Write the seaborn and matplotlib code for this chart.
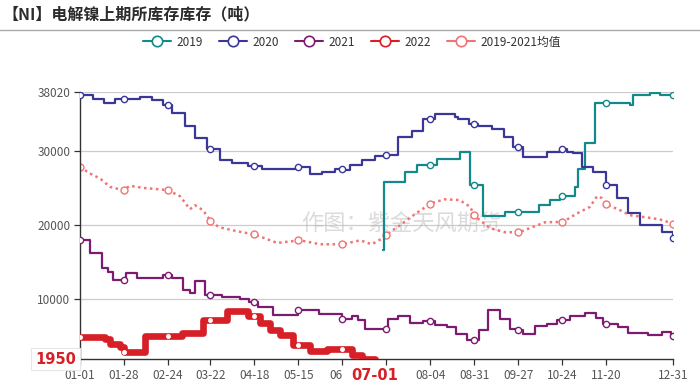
import numpy as np
import pandas as pd
import matplotlib
matplotlib.use("Agg")
import matplotlib.pyplot as plt
from matplotlib.lines import Line2D
import seaborn as sns

sns.set_theme(style="white")
plt.rcParams['font.family'] = ['Noto Sans CJK SC', 'DejaVu Sans']

# ---------------- data (x = day of year, y = tonnes) ----------------
tick_days = [0, 27, 54, 80, 107, 134, 161, 188, 215, 242, 269, 296, 323, 364]
tick_labels = ['01-01', '01-28', '02-24', '03-22', '04-18', '05-15', '06',
               '', '08-04', '08-31', '09-27', '10-24', '11-20', '12-31']
y_ticks = [1950, 10000, 20000, 30000, 38020]
y_tick_labels = ['', '10000', '20000', '30000', '38020']
min_label = '1950'
date_label = '07-01'
date_day = 181

d2019 = [186, 186.3, 199.5, 207, 219, 233, 239.4, 247.4, 261, 282, 288.5, 294.7,
         304, 305.7, 310, 316, 337.6, 339.5, 350, 356, 364]
v2019 = [16600, 25900, 27200, 28100, 28900, 29900, 25400, 21300, 21800, 22700, 23400, 24000,
         25100, 27600, 31100, 36500, 36200, 37600, 37800, 37570, 37570]

d2020 = [0, 8, 15, 21.5, 37, 44, 51, 56.5, 64.5, 70.6, 78, 86, 93, 103, 112, 133, 141,
         148.6, 156.5, 161.5, 166, 173, 181, 187, 195, 204, 210.5, 218, 230, 232, 239,
         244, 253, 260, 266, 272, 286.7, 294.7, 299, 302.6, 308, 315, 323, 329.7, 336.4,
         343.7, 357, 364]
v2020 = [37570, 37100, 36500, 37100, 37300, 36900, 36200, 35100, 33400, 31750, 30270,
         28800, 28400, 28000, 27600, 27800, 26900, 27200, 27600, 27400, 28100, 28800,
         29300, 29500, 31900, 32700, 34300, 35000, 34600, 34300, 33600, 33400, 33000,
         31900, 30600, 29200, 29900, 30270, 29900, 29700, 27800, 27200, 25400, 23650,
         21600, 20000, 19050, 18250]

d2021 = [0, 6, 13.5, 17, 20, 28, 35, 51, 56.5, 63, 67.5, 70.6, 76.7, 87, 98, 104, 109,
         118.5, 134, 147, 161, 167, 170.7, 175, 189, 195, 202.6, 210.6, 218, 225, 231,
         237.6, 245, 250.5, 258, 264, 268, 272, 279, 286.7, 292.8, 301, 310, 317, 321,
         330, 336.4, 348.7, 357, 362.8, 364]
v2021 = [18070, 16260, 14200, 13700, 12570, 13550, 12880, 13340, 12880, 11200, 10850,
         12460, 10540, 10300, 10000, 9640, 8920, 7840, 8510, 8060, 7390, 7700, 7250, 6040,
         7390, 7700, 6800, 7070, 6580, 6260, 5360, 4460, 5810, 8510, 7300, 6000, 5810,
         5270, 6350, 6710, 7160, 7700, 8100, 7500, 6710, 6250, 5450, 5140, 5580, 5040, 5040]

d2022 = [0, 15.3, 18.4, 24.6, 27, 40, 62.6, 75.5, 90, 103, 110.5, 116.6, 122.8, 130.8,
         141, 151.6, 167, 173, 181]
v2022 = [4900, 4680, 4000, 3550, 2870, 5000, 5500, 7250, 8420, 7700, 6800, 5810, 5140,
         3780, 3020, 3340, 2430, 1980, 1950]

d_avg = [0, 6, 12.3, 18.4, 26.4, 30.7, 38.7, 46, 54, 61.4, 67.5, 70.6, 75.5, 81, 86,
         96.4, 107.4, 121, 135, 147.3, 161.4, 172, 179, 185.4, 188.5, 196.4, 205.6, 215.5,
         224, 233, 239.4, 242.5, 251.7, 261, 269.5, 276, 285.5, 296.5, 305, 313, 317.4,
         320.4, 323, 331.5, 337.6, 350, 356, 364]
v_avg = [27870, 26990, 26310, 25180, 24730, 25320, 25040, 24900, 24730, 23920, 22160,
         22700, 22030, 20310, 19700, 19190, 18740, 17610, 17970, 17430, 17430, 17970,
         17430, 18200, 18780, 20000, 21500, 22970, 23500, 23400, 22500, 21200, 19600,
         19050, 19050, 19600, 20400, 20450, 21580, 22480, 23920, 23650, 22840, 22030,
         21350, 20990, 20770, 20230]

series_names = ['2019', '2020', '2021', '2022', '2019-2021均值']
colors = ['#13898b', '#3b3799', '#7d1b70', '#d61f26', '#f07474']

# ---------------- figure ----------------
fig = plt.figure(figsize=(7.0, 3.86), dpi=100)
ax = fig.add_axes([80 / 700, 1 - 359 / 386, 593 / 700, (359 - 91.7) / 386])

def step_val(days, vals, d):
    idx = np.searchsorted(np.asarray(days), d, side='right') - 1
    return vals[idx]

def draw_step(days, vals, color, lw, z, msize):
    sns.lineplot(x=days, y=vals, ax=ax, color=color, lw=lw, drawstyle='steps-post',
                 sort=False, estimator=None, zorder=z)
    md = [t for t in tick_days if days[0] + 3 <= t <= days[-1]]
    if days[0] == 0:
        md = [0] + md
    mv = [step_val(days, vals, t) for t in md]
    ax.plot(md, mv, 'o', ms=msize, mfc='white', mec=color, mew=1.0, zorder=z + 0.5, ls='none')

draw_step(d2019, v2019, colors[0], 1.6, 3, 4.5)
draw_step(d2020, v2020, colors[1], 1.6, 3, 4.5)
draw_step(d2021, v2021, colors[2], 1.6, 3, 4.5)

# average (dotted)
sns.lineplot(x=d_avg, y=v_avg, ax=ax, color=colors[4], lw=1.8, sort=False, estimator=None,
             zorder=2)
ax.lines[-1].set_linestyle((0, (1, 1.4)))
md = list(tick_days)
mv = list(np.interp(md, d_avg, v_avg))
ax.plot(md, mv, 'o', ms=5, mfc='white', mec=colors[4], mew=1.0, zorder=2.5, ls='none')

# 2022 thick
sns.lineplot(x=d2022, y=v2022, ax=ax, color=colors[3], lw=4.8, drawstyle='steps-post',
             sort=False, estimator=None, zorder=5)
md = [t for t in tick_days if t <= d2022[-1] - 5]
mv = [step_val(d2022, v2022, t) for t in md]
ax.plot(md, mv, 'o', ms=3, mfc='white', mec='white', mew=0.5, zorder=6, ls='none')

# axes styling
ax.set_xlim(0, 364)
ax.set_ylim(1950, 38020)
ax.set_xticks(tick_days)
ax.set_xticklabels(tick_labels)
ax.set_yticks(y_ticks)
ax.set_yticklabels(y_tick_labels)
for yv in y_ticks[1:]:
    ax.axhline(yv, color='#cccccc', lw=0.9, zorder=0)
for s in ['top', 'right']:
    ax.spines[s].set_visible(False)
for s in ['left', 'bottom']:
    ax.spines[s].set_color('#333333')
    ax.spines[s].set_linewidth(1.0)
ax.tick_params(axis='both', which='both', length=4, width=0.9, color='#333333',
               labelcolor='#555555', labelsize=8.5, direction='out', pad=3)
ax.tick_params(axis='x', bottom=True)
ax.tick_params(axis='y', left=True)
ax.set_xlabel('')
ax.set_ylabel('')
# the "06" label shows only the left part in the reference
for lab in ax.get_xticklabels():
    if lab.get_text() == '06':
        lab.set_horizontalalignment('right')

# highlighted min label & current date label
ax.text(-4 / 1.629, y_ticks[0], min_label, color='#d61f26', fontsize=10.5, fontweight='bold',
        ha='right', va='center', family=['DejaVu Sans'],
        bbox=dict(boxstyle='square,pad=0.25', fc='white', ec='#e6e6e6', lw=0.8), zorder=10,
        clip_on=False)
ax.text(date_day, -0.035, date_label, transform=ax.get_xaxis_transform(), color='#d61f26',
        fontsize=10.5, fontweight='bold', ha='center', va='top', family=['DejaVu Sans'],
        zorder=10, clip_on=False)

# watermark
ax.text(0.542, 0.505, '作图：紫金天风期货', transform=ax.transAxes, fontsize=16,
        color='#b8b8b8', alpha=0.5, ha='center', va='center', zorder=1)

# title + separator
fig.text(2 / 700, 1 - 14 / 386, '【NI】电解镍上期所库存库存（吨）', fontsize=11.5,
         fontweight='bold', color='#2b2b2b', ha='left', va='center')
fig.add_artist(Line2D([0, 1], [1 - 30 / 386, 1 - 30 / 386], transform=fig.transFigure,
                      color='#aaaaaa', lw=1.0))

# legend
handles = []
for name, c in zip(series_names, colors):
    handles.append(Line2D([0], [0], color=c, lw=1.5, marker='o', ms=7.5, mfc='white',
                          mec=c, mew=1.2))
fig.legend(handles, series_names, loc='center', bbox_to_anchor=(352 / 700, 1 - 42 / 386),
           ncol=5, frameon=False, fontsize=8.5, handlelength=2.4, handletextpad=0.45,
           columnspacing=1.35, labelcolor='#333333')

fig.savefig('out.png', dpi=100)
